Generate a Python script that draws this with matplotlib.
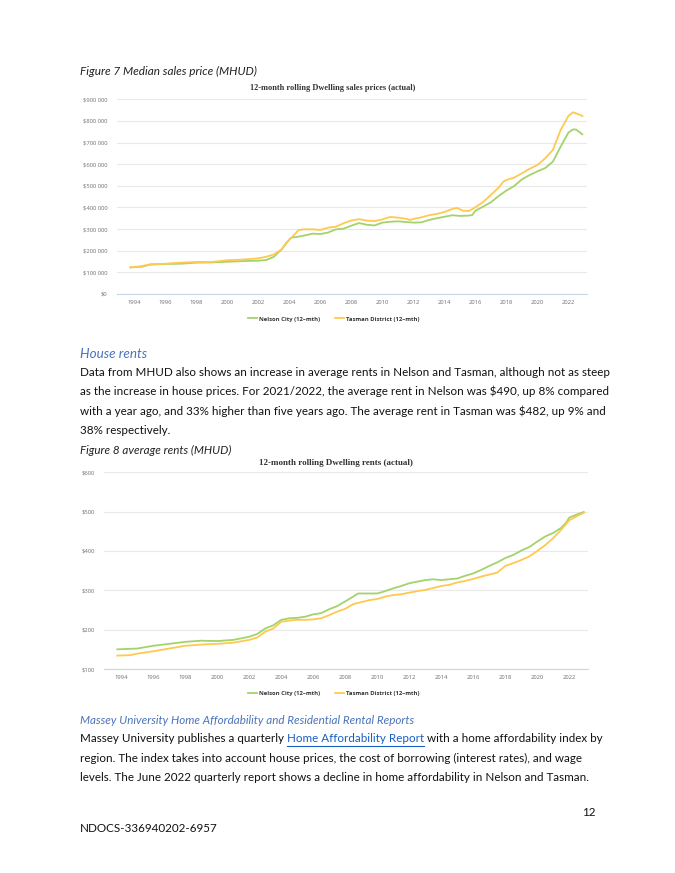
import matplotlib
matplotlib.use("Agg")
import matplotlib.pyplot as plt
from matplotlib.lines import Line2D

# ---------------- data ----------------
sales_years_nelson = [1993.75, 1994.5, 1995, 1996, 1997, 1998, 1999, 2000, 2001, 2002, 2002.5, 2003, 2003.5,
                      2003.8, 2004.1, 2004.5, 2005, 2005.5, 2006, 2006.5, 2007, 2007.5, 2008, 2008.5, 2009,
                      2009.5, 2010, 2010.5, 2011, 2011.5, 2012, 2012.5, 2013, 2013.5, 2014, 2014.5, 2015,
                      2015.5, 2015.8, 2016, 2016.5, 2017, 2017.5, 2018, 2018.5, 2019, 2019.5, 2020, 2020.5,
                      2021, 2021.5, 2022, 2022.3, 2022.5, 2022.9]
sales_nelson_k = [123, 126, 136, 139, 140, 145, 146, 149, 152, 154, 157, 172, 206, 234, 260, 264, 271, 279,
                  277, 284, 299, 302, 316, 328, 320, 317, 330, 334, 336, 333, 330, 331, 342, 350, 357, 364,
                  361, 362, 365, 385, 404, 424, 453, 478, 499, 530, 550, 567, 582, 612, 681, 746, 761, 760, 738]

sales_years_tasman = [1993.75, 1994.5, 1995, 1996, 1997, 1998, 1999, 2000, 2001, 2002, 2002.5, 2003, 2003.5,
                      2003.8, 2004.2, 2004.6, 2005, 2005.5, 2006, 2006.5, 2007, 2007.5, 2008, 2008.5, 2009,
                      2009.5, 2010, 2010.5, 2011, 2011.5, 2011.8, 2012, 2012.5, 2013, 2013.5, 2014, 2014.5,
                      2014.8, 2015.2, 2015.6, 2016, 2016.5, 2017, 2017.5, 2017.8, 2018, 2018.5, 2019, 2019.5,
                      2020, 2020.5, 2021, 2021.5, 2022, 2022.3, 2022.6, 2022.9]
sales_tasman_k = [123, 129, 137, 140, 145, 148, 148, 156, 159, 165, 172, 183, 206, 237, 265, 296, 299, 299,
                  296, 307, 311, 327, 340, 346, 339, 337, 345, 356, 353, 348, 342, 347, 354, 364, 370, 379,
                  393, 398, 385, 384, 401, 425, 458, 492, 519, 527, 538, 558, 579, 596, 627, 666, 758, 823,
                  840, 832, 823]

rent_years_nelson = [1993.75, 1995, 1996, 1997, 1998, 1999, 2000, 2001, 2002, 2002.5, 2003, 2003.5, 2004,
                     2004.5, 2005, 2005.5, 2006, 2006.5, 2007, 2007.5, 2008, 2008.5, 2008.8, 2009.3, 2010,
                     2010.5, 2011, 2011.5, 2012, 2012.5, 2013, 2013.5, 2014, 2014.5, 2015, 2015.5, 2016,
                     2016.5, 2017, 2017.5, 2018, 2018.5, 2019, 2019.5, 2020, 2020.5, 2021, 2021.5, 2021.8,
                     2022, 2022.5, 2022.9]
rent_nelson = [150, 152, 159, 164, 169, 172, 171, 174, 182, 189, 203, 211, 225, 229, 230, 233, 239, 242, 252,
               260, 272, 284, 292, 292, 292, 298, 305, 311, 318, 322, 326, 328, 326, 328, 330, 337, 343, 352,
               362, 371, 382, 390, 401, 410, 424, 437, 446, 459, 472, 485, 493, 499]

rent_years_tasman = [1993.75, 1994.5, 1995, 1996, 1997, 1998, 1999, 2000, 2001, 2002, 2002.5, 2003, 2003.5,
                     2004, 2004.5, 2005, 2005.5, 2006, 2006.5, 2007, 2007.5, 2008, 2008.5, 2009, 2009.5,
                     2010, 2010.5, 2011, 2011.5, 2012, 2012.5, 2013, 2013.5, 2014, 2014.5, 2015, 2015.5,
                     2016, 2016.5, 2017, 2017.5, 2018, 2018.5, 2019, 2019.5, 2020, 2020.5, 2021, 2021.5,
                     2022, 2022.5, 2022.9]
rent_tasman = [134, 135, 139, 145, 152, 159, 162, 164, 167, 174, 180, 195, 203, 220, 223, 225, 225, 226, 229,
               237, 246, 253, 265, 270, 275, 278, 284, 288, 290, 294, 298, 301, 306, 311, 314, 320, 324, 329,
               335, 340, 345, 362, 369, 377, 386, 400, 415, 433, 454, 478, 489, 497]

year_ticks = [1994, 1996, 1998, 2000, 2002, 2004, 2006, 2008, 2010, 2012, 2014, 2016, 2018, 2020, 2022]
price_ticks = [0, 100000, 200000, 300000, 400000, 500000, 600000, 700000, 800000, 900000]
price_labels = ["$0", "$100 000", "$200 000", "$300 000", "$400 000", "$500 000", "$600 000",
                "$700 000", "$800 000", "$900 000"]
rent_ticks = [100, 200, 300, 400, 500, 600]
rent_labels = ["$100", "$200", "$300", "$400", "$500", "$600"]
series_names = ["Nelson City (12\u2013mth)", "Tasman District (12\u2013mth)"]

# ---------------- styles ----------------
W, H = 675, 873
GREEN = "#a3d36b"
ORANGE = "#ffc94f"
GRID = "#e9e9e9"
AXIS = "#ccd6eb"
TICKC = "#707070"
BODY = "Lato"
HEAD_BLUE = "#4a73b9"

fig = plt.figure(figsize=(W / 100, H / 100), dpi=100)
fig.patch.set_facecolor("white")
renderer = fig.canvas.get_renderer()


def put(x, y, s, target_w=None, **kw):
    kw.setdefault("va", "center")
    kw.setdefault("ha", "left")
    t = fig.text(x / W, 1 - y / H, s, **kw)
    if target_w:
        w = t.get_window_extent(renderer=renderer).width
        t.set_fontsize(t.get_fontsize() * target_w / w)
    return t


def width_of(t):
    return t.get_window_extent(renderer=renderer).width


def make_axes(l, r, top, bot):
    return fig.add_axes([l / W, 1 - bot / H, (r - l) / W, (bot - top) / H])


def style_axes(ax, yticks, ylabels, ylim, xlim):
    ax.set_xlim(*xlim)
    ax.set_ylim(*ylim)
    ax.set_yticks(yticks)
    ax.set_yticklabels(ylabels)
    ax.set_xticks(year_ticks)
    ax.set_xticklabels([str(y) for y in year_ticks])
    ax.grid(axis="y", color=GRID, linewidth=0.8)
    ax.set_axisbelow(True)
    for s in ["top", "right", "left"]:
        ax.spines[s].set_visible(False)
    ax.spines["bottom"].set_color(AXIS)
    ax.spines["bottom"].set_linewidth(0.8)
    ax.tick_params(axis="y", length=0, pad=7, labelsize=4.2, labelcolor=TICKC)
    ax.tick_params(axis="x", length=0, pad=4, labelsize=4.2, labelcolor=TICKC)
    for lab in ax.get_xticklabels() + ax.get_yticklabels():
        lab.set_family("Open Sans")


# ---------------- chart 1 ----------------
put(80, 71, "Figure 7 Median sales price (MHUD)", target_w=176, family=BODY, style="italic",
    fontsize=9, color="#222222")
put(332.5, 88, "12-month rolling Dwelling sales prices (actual)", target_w=165, ha="center",
    family="Liberation Serif", weight="bold", fontsize=6, color="#333333")

ax1 = make_axes(117, 587, 99.3, 294)
ax1.plot(sales_years_nelson, [v * 1000 for v in sales_nelson_k], color=GREEN, lw=1.3)
ax1.plot(sales_years_tasman, [v * 1000 for v in sales_tasman_k], color=ORANGE, lw=1.3)
style_axes(ax1, price_ticks, price_labels, (0, 900000), (1992.88, 2023.2))

handles = [Line2D([], [], color=GREEN, lw=1.3), Line2D([], [], color=ORANGE, lw=1.3)]


def legend_at(y):
    leg = fig.legend(handles, series_names, loc="center", bbox_to_anchor=(334 / W, 1 - y / H),
                     ncol=2, frameon=False, handlelength=1.5, handletextpad=0.4, columnspacing=2.6,
                     prop={"family": "Open Sans", "weight": "bold", "size": 4.2})
    for t in leg.get_texts():
        t.set_color("#333333")


legend_at(319)

# ---------------- text between ----------------
put(80, 354, "House rents", family=BODY, style="italic", fontsize=9, color=HEAD_BLUE, target_w=67)
lines1 = [
    "Data from MHUD also shows an increase in average rents in Nelson and Tasman, although not as steep",
    "as the increase in house prices. For 2021/2022, the average rent in Nelson was $490, up 8% compared",
    "with a year ago, and 33% higher than five years ago. The average rent in Tasman was $482, up 9% and",
    "38% respectively.",
]
t0 = put(80, 372, lines1[0], target_w=524, family=BODY, fontsize=10, color="#111111")
body_fs = t0.get_fontsize()
for i, s in enumerate(lines1[1:], start=1):
    put(80, 372 + 19.6 * i, s, family=BODY, fontsize=body_fs, color="#111111")

# ---------------- chart 2 ----------------
put(80, 450, "Figure 8 average rents (MHUD)", family=BODY, style="italic", fontsize=body_fs,
    color="#222222")
put(336, 463, "12-month rolling Dwelling rents (actual)", target_w=157, ha="center",
    family="Liberation Serif", weight="bold", fontsize=6, color="#333333")

ax2 = make_axes(104.3, 588, 472.3, 669)
ax2.plot(rent_years_nelson, rent_nelson, color=GREEN, lw=1.3)
ax2.plot(rent_years_tasman, rent_tasman, color=ORANGE, lw=1.3)
style_axes(ax2, rent_ticks, rent_labels, (100, 600), (1992.94, 2023.17))

legend_at(693)

# ---------------- bottom text ----------------
put(80, 720, "Massey University Home Affordability and Residential Rental Reports", family=BODY,
    style="italic", fontsize=body_fs, color=HEAD_BLUE)

y_l1 = 739
a = put(80, y_l1, "Massey University publishes a quarterly ", family=BODY, fontsize=body_fs, color="#111111")
x_link = 80 + width_of(a)
link = put(x_link, y_l1, "Home Affordability Report", family=BODY, fontsize=body_fs, color="#1a5fc4")
wl = width_of(link)
fig.add_artist(Line2D([x_link / W, (x_link + wl) / W], [1 - (y_l1 + 7) / H, 1 - (y_l1 + 7) / H],
                      color="#1a5fc4", lw=0.8))
put(x_link + wl, y_l1, " with a home affordability index by", family=BODY, fontsize=body_fs, color="#111111")

lines2 = [
    "region. The index takes into account house prices, the cost of borrowing (interest rates), and wage",
    "levels. The June 2022 quarterly report shows a decline in home affordability in Nelson and Tasman.",
]
for i, s in enumerate(lines2, start=1):
    put(80, y_l1 + 19.3 * i, s, family=BODY, fontsize=body_fs, color="#111111")

put(596, 813, "12", ha="right", family=BODY, fontsize=body_fs, color="#111111")
put(80, 828, "NDOCS-336940202-6957", family=BODY, fontsize=body_fs, color="#111111")

fig.savefig("out.png", dpi=100, facecolor="white")
